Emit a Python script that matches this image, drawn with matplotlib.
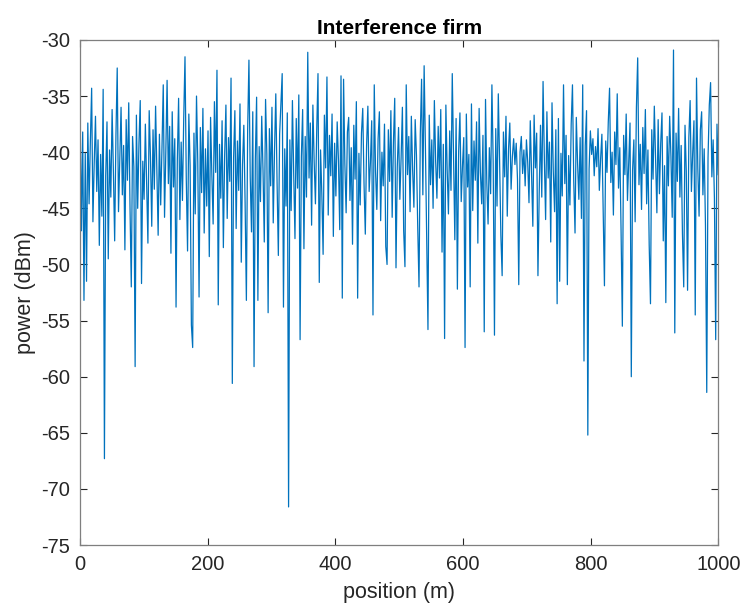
import numpy as np
import matplotlib
matplotlib.use("Agg")
import matplotlib.pyplot as plt

# power readings (dBm), sampled every ~2 m along the route
power = [
    -36.5, -47.0, -38.2, -53.2, -40.1, -51.5, -37.4, -44.6, -39.0, -34.3, -46.2, -41.0, -36.8, -43.5, -38.9, -48.3, -40.2, -45.7, -34.4, -67.3,
    -42.1, -37.3, -49.5, -39.8, -44.0, -36.2, -41.7, -47.9, -38.5, -32.5, -45.3, -40.6, -36.0, -43.8, -39.4, -48.7, -37.1, -42.5, -35.6, -44.9,
    -52.0, -38.6, -41.3, -59.1, -36.7, -45.0, -39.2, -35.4, -51.7, -40.8, -44.2, -37.5, -42.9, -48.1, -36.3, -40.4, -46.6, -38.0, -43.3, -35.9,
    -41.5, -47.4, -38.4, -44.7, -39.6, -34.0, -45.8, -40.0, -33.6, -42.8, -37.7, -49.0, -36.4, -43.1, -38.8, -53.8, -40.7, -35.2, -46.0, -39.1,
    -44.3, -37.0, -31.5, -42.4, -48.8, -36.6, -41.2, -55.4, -57.4, -38.3, -45.5, -35.0, -40.9, -52.9, -37.8, -43.6, -36.1, -47.2, -39.7, -44.8,
    -38.1, -49.3, -36.9, -42.0, -46.4, -35.5, -41.8, -32.7, -53.6, -39.3, -44.1, -37.2, -48.5, -40.3, -35.8, -45.9, -38.7, -42.6, -33.4, -60.6,
    -40.5, -36.3, -46.8, -39.0, -43.4, -35.7, -49.8, -41.1, -37.6, -44.5, -53.2, -38.0, -31.8, -42.2, -47.1, -36.4, -59.1, -40.6, -35.1, -53.2,
    -39.5, -44.4, -36.8, -41.6, -48.0, -35.3, -40.2, -54.3, -37.9, -43.0, -36.0, -46.3, -39.9, -34.8, -42.7, -49.2, -38.4, -35.6, -33.0, -53.8,
    -39.7, -44.8, -36.5, -71.6, -38.9, -45.2, -35.4, -41.9, -47.7, -37.0, -43.2, -34.9, -56.7, -40.4, -36.2, -48.6, -38.6, -44.0, -31.1, -42.3,
    -37.4, -46.5, -35.8, -40.8, -44.6, -38.1, -33.0, -51.6, -39.8, -43.7, -49.1, -36.7, -41.4, -33.3, -45.6, -38.5, -42.1, -36.6, -47.5, -39.2,
    -43.9, -37.3, -40.7, -46.9, -33.2, -53.0, -33.5, -41.0, -45.4, -38.2, -36.9, -44.3, -39.6, -48.2, -37.6, -42.4, -35.5, -53.0, -40.1, -44.7,
    -38.3, -36.1, -42.8, -47.3, -39.4, -35.9, -43.5, -40.9, -37.2, -54.5, -34.0, -41.7, -45.1, -38.8, -36.4, -46.1, -40.0, -43.0, -37.5, -48.4,
    -50.0, -38.0, -42.6, -36.3, -45.8, -39.1, -35.2, -50.3, -41.3, -37.8, -44.2, -40.5, -36.0, -47.0, -50.2, -34.0, -42.0, -38.6, -45.3, -36.8,
    -41.6, -44.9, -37.1, -40.3, -46.7, -52.0, -38.4, -33.5, -43.8, -32.3, -39.5, -47.6, -55.8, -36.7, -42.9, -38.9, -45.0, -35.4, -40.8, -44.1,
    -37.7, -42.3, -36.2, -48.9, -39.3, -56.6, -35.8, -41.5, -45.5, -38.1, -43.4, -33.0, -40.6, -47.8, -37.0, -52.2, -39.9, -36.5, -44.4, -41.2,
    -38.7, -57.4, -36.6, -43.1, -40.2, -52.0, -35.7, -45.2, -39.0, -42.5, -37.3, -48.1, -36.1, -41.8, -44.6, -38.5, -56.0, -35.3, -42.7, -46.4,
    -39.6, -43.7, -34.0, -41.0, -56.3, -37.9, -44.8, -34.8, -40.7, -47.4, -51.0, -38.2, -42.2, -36.8, -45.7, -39.7, -37.4, -43.3, -40.4, -38.8,
    -41.1, -39.2, -42.4, -51.8, -40.0, -38.6, -41.9, -39.8, -43.0, -38.9, -40.9, -44.5, -37.2, -42.0, -46.6, -36.7, -41.4, -38.3, -51.0, -43.6,
    -37.6, -44.0, -33.7, -40.5, -46.0, -36.4, -42.3, -39.1, -48.0, -35.6, -41.7, -45.3, -38.0, -53.5, -37.0, -51.5, -40.1, -43.9, -34.0, -42.8,
    -38.5, -51.8, -40.3, -44.7, -37.5, -34.0, -42.6, -47.2, -36.9, -41.0, -44.2, -38.7, -45.9, -34.0, -58.6, -39.4, -36.3, -65.2, -41.5, -38.1,
    -40.2, -38.8, -42.1, -39.5, -41.3, -37.9, -43.4, -40.6, -38.4, -44.9, -51.9, -39.0, -41.8, -37.3, -34.3, -42.7, -40.0, -45.6, -38.2, -41.1,
    -34.8, -43.2, -39.6, -47.0, -55.5, -38.5, -42.0, -36.6, -44.3, -40.7, -37.4, -60.0, -41.6, -38.9, -46.2, -36.0, -31.6, -42.9, -39.3, -45.1,
    -37.8, -41.9, -36.2, -44.6, -39.8, -48.3, -53.5, -38.0, -42.4, -35.9, -40.8, -45.4, -37.1, -43.7, -39.2, -36.5, -47.9, -41.2, -53.4, -38.6,
    -43.0, -36.8, -40.4, -45.8, -30.9, -56.1, -38.3, -42.6, -36.1, -44.0, -39.4, -47.3, -52.0, -37.6, -41.7, -52.3, -38.7, -35.4, -43.5, -40.1,
    -37.2, -54.5, -33.4, -41.4, -45.7, -38.0, -36.4, -43.8, -39.7, -46.5, -61.4, -40.5, -35.8, -33.8, -42.2, -38.9, -44.1, -56.7, -37.5, -42.0,
]
position = np.linspace(0, 1000, len(power))

x_ticks = [0, 200, 400, 600, 800, 1000]
y_ticks = [-75, -70, -65, -60, -55, -50, -45, -40, -35, -30]

plt.rcParams['font.family'] = ['Liberation Sans', 'DejaVu Sans']
plt.rcParams['axes.unicode_minus'] = False

fig = plt.figure(figsize=(7.42, 6.05), dpi=100)
ax = fig.add_axes([0.108, 0.099, 0.860, 0.835])
ax.plot(position, power, color='#0072BD', linewidth=0.9)

ax.set_xlim(0, 1000)
ax.set_ylim(-75, -30)
ax.set_xticks(x_ticks)
ax.set_yticks(y_ticks)
ax.tick_params(direction='in', top=True, right=True, labelsize=14.5,
               colors='#262626', length=5, width=0.8, pad=7)
for s in ax.spines.values():
    s.set_color('#7f7f7f')
    s.set_linewidth(0.9)

ax.set_xlabel('position (m)', fontsize=15.5, color='#262626', labelpad=6)
ax.set_ylabel('power (dBm)', fontsize=15.5, color='#262626', labelpad=4)
ax.set_title('Interference firm', fontsize=15, fontweight='bold', pad=4)

fig.savefig('out.png', dpi=100)
